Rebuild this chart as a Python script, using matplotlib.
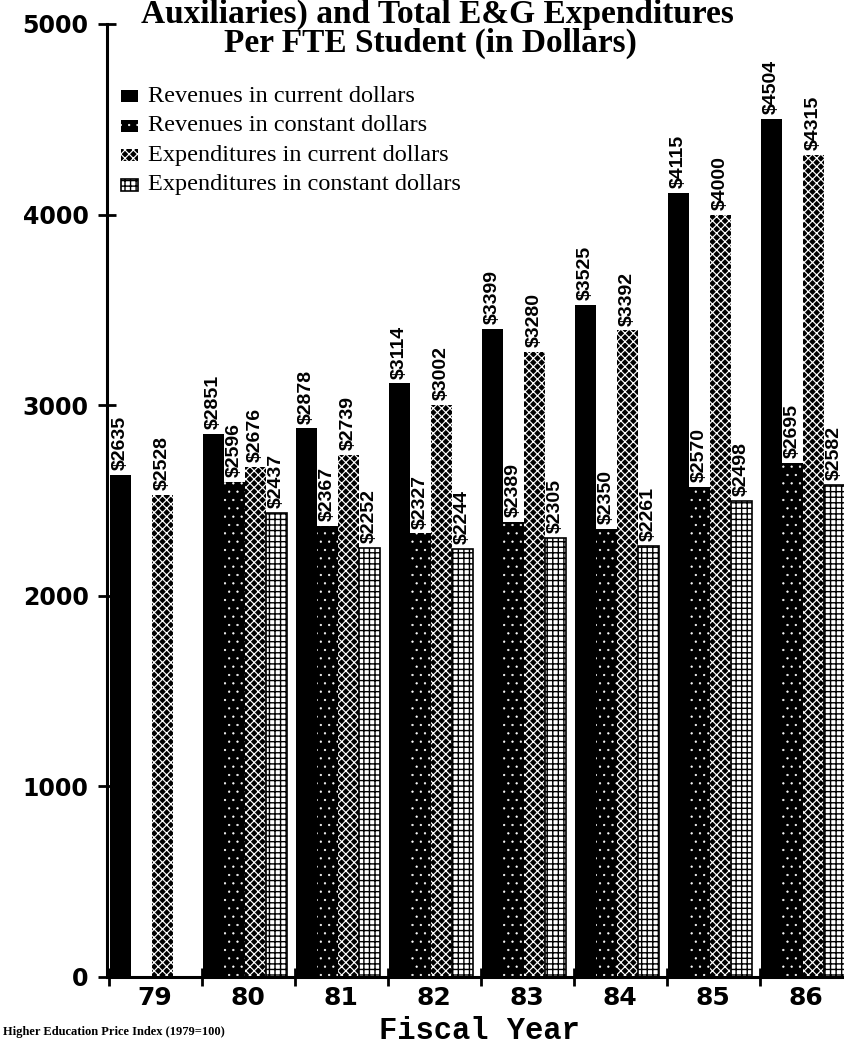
import matplotlib
matplotlib.use("Agg")
import matplotlib.pyplot as plt
from matplotlib.patches import Rectangle

# ---- data -------------------------------------------------------------
years = ["79", "80", "81", "82", "83", "84", "85", "86"]
series_names = [
    "Revenues in current dollars",
    "Revenues in constant dollars",
    "Expenditures in current dollars",
    "Expenditures in constant dollars",
]
rev_current = [2635, 2851, 2878, 3114, 3399, 3525, 4115, 4504]
rev_constant = [None, 2596, 2367, 2327, 2389, 2350, 2570, 2695]
exp_current = [2528, 2676, 2739, 3002, 3280, 3392, 4000, 4315]
exp_constant = [None, 2437, 2252, 2244, 2305, 2261, 2498, 2582]
y_ticks = [0, 1000, 2000, 3000, 4000, 5000]

title_lines = ["Auxiliaries) and Total E&G Expenditures",
               "Per FTE Student (in Dollars)"]
x_title = "Fiscal Year"
footnote = "Higher Education Price Index (1979=100)"

# ---- styles: face, hatch/edge ink, hatch, edge width, hatch width -----
styles = [
    dict(face="black", ink="black", hatch=None, lw=0.0, hlw=1.0),
    dict(face="black", ink="white", hatch="..", lw=0.0, hlw=0.4),
    dict(face="black", ink="white", hatch="xxxx", lw=0.0, hlw=0.85),
    dict(face="white", ink="black", hatch="+++", lw=1.2, hlw=1.0),
]

W, H, DPI = 844, 1052, 100
fig = plt.figure(figsize=(W / DPI, H / DPI), dpi=DPI)
fig.patch.set_facecolor("white")

# axes placed in pixel terms
ax_left, ax_right, ax_top, ax_bottom = 107, 844, 24, 977
ax = fig.add_axes([ax_left / W, 1 - ax_bottom / H,
                   (ax_right - ax_left) / W, (ax_bottom - ax_top) / H])

group_px = 93.0
origin_px = 109.0
bar_w = 0.225
bar_off = 0.01

all_series = [rev_current, rev_constant, exp_current, exp_constant]
for k, (vals, st) in enumerate(zip(all_series, styles)):
    xs = [i + bar_off + k * bar_w for i, v in enumerate(vals) if v is not None]
    vs = [v for v in vals if v is not None]
    with plt.rc_context({"hatch.linewidth": st["hlw"]}):
        bars = ax.bar(xs, vs, width=bar_w, align="edge",
                      facecolor=st["face"], edgecolor=st["ink"],
                      hatch=st["hatch"], linewidth=st["lw"], zorder=2)
    for p in bars:
        if hasattr(p, "set_hatch_linewidth"):
            p.set_hatch_linewidth(st["hlw"])
    for x, v in zip(xs, vs):
        ax.annotate(f"${v}", xy=(x + bar_w / 2, v), xytext=(0, 3.5),
                    textcoords="offset points", rotation=90,
                    ha="center", va="bottom", fontsize=14,
                    fontfamily="Liberation Sans", fontweight="bold",
                    bbox=dict(facecolor="white", edgecolor="none", pad=1.0),
                    zorder=4)

ax.set_ylim(0, 5000)
ax.set_xlim((ax_left - origin_px) / group_px, (ax_right - origin_px) / group_px)

for side in ("top", "right"):
    ax.spines[side].set_visible(False)
for side in ("left", "bottom"):
    ax.spines[side].set_linewidth(2.2)
    ax.spines[side].set_zorder(5)

ax.set_yticks(y_ticks)
ax.set_yticklabels([str(t) for t in y_ticks])
ax.tick_params(axis="y", direction="inout", length=12.5, width=2.0, pad=7,
               labelsize=17)
for lab in ax.get_yticklabels():
    lab.set_fontfamily("DejaVu Sans")
    lab.set_fontweight("bold")

# group boundary ticks and centred year labels
ax.set_xticks(range(len(years)))
ax.set_xticklabels([""] * len(years))
ax.tick_params(axis="x", which="major", direction="inout", length=13.5,
               width=2.0)
ax.set_xticks([i + 0.49 for i in range(len(years))], minor=True)
ax.set_xticklabels(years, minor=True)
ax.tick_params(axis="x", which="minor", length=0, pad=6.5, labelsize=18)
for lab in ax.get_xticklabels(minor=True):
    lab.set_fontfamily("DejaVu Sans")
    lab.set_fontweight("bold")

# title (two centred lines)
fig.text(437 / W, 1 - 23 / H, title_lines[0], ha="center", va="baseline",
         fontsize=24, fontfamily="Liberation Serif", fontweight="bold")
fig.text(430 / W, 1 - 52 / H, title_lines[1], ha="center", va="baseline",
         fontsize=24, fontfamily="Liberation Serif", fontweight="bold")

# legend drawn as swatches + labels
row_y = [96, 125.5, 155, 184.5]
for name, st, yy in zip(series_names, styles, row_y):
    with plt.rc_context({"hatch.linewidth": st["hlw"]}):
        sw = Rectangle((121 / W, 1 - (yy + 6) / H), 17 / W, 12 / H,
                       transform=fig.transFigure, facecolor=st["face"],
                       edgecolor=st["ink"], hatch=st["hatch"],
                       linewidth=st["lw"])
    if hasattr(sw, "set_hatch_linewidth"):
        sw.set_hatch_linewidth(st["hlw"])
    fig.add_artist(sw)
    fig.text(148 / W, 1 - yy / H, name, ha="left", va="center",
             fontsize=17.5, fontfamily="Liberation Serif")

fig.text(479 / W, 1 - 1031 / H, x_title, ha="center", va="center",
         fontsize=22, fontfamily="Liberation Mono", fontweight="bold")
fig.text(3 / W, 1 - 1032 / H, footnote, ha="left", va="center",
         fontsize=9, fontfamily="Liberation Serif", fontweight="bold")

fig.savefig("out.png", dpi=DPI, facecolor="white")
